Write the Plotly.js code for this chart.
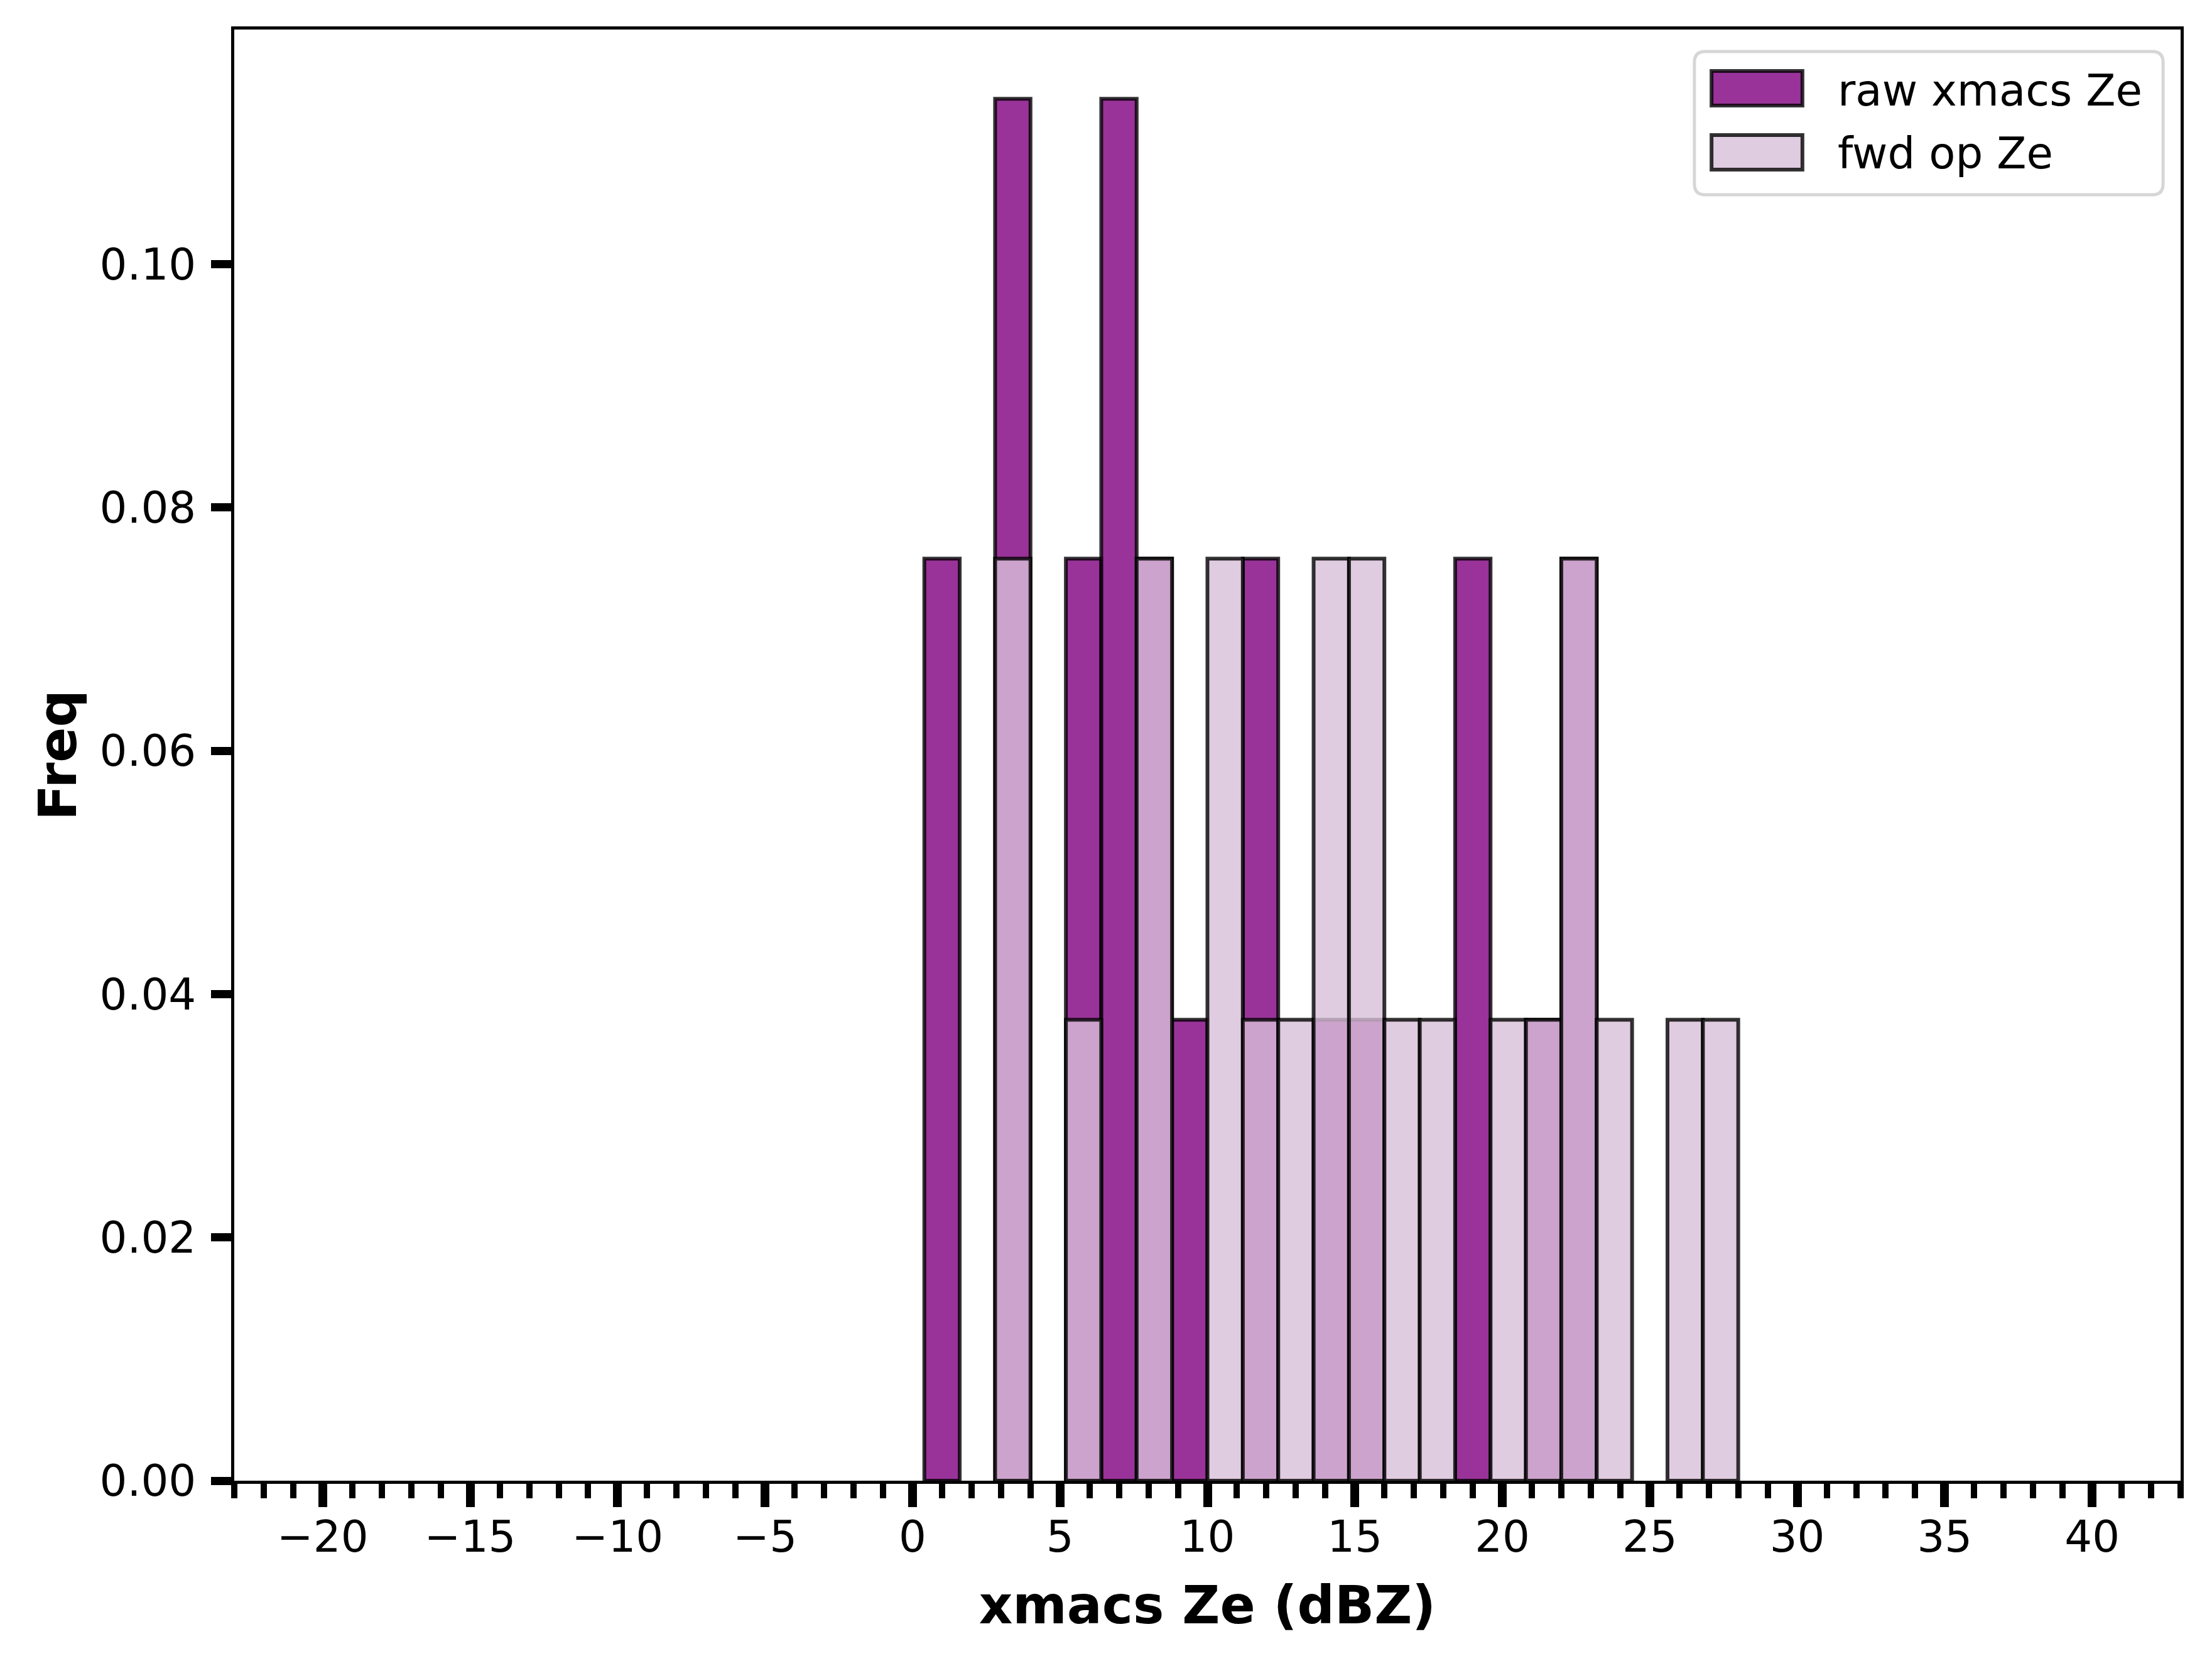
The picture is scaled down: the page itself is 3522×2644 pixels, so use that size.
<!DOCTYPE html>
<html>
<head>
<meta charset="utf-8">
<script src="https://cdn.plot.ly/plotly-3.0.1.min.js"></script>
<style>
  html, body { margin: 0; padding: 0; background: #fff; }
  #graph { width: 3522px; height: 2644px; }
</style>
</head>
<body>
<div id="graph"></div>
<script>
// histogram bins (dBZ), centres of each 1.2 dBZ bin
const binCenters = [1.0, 2.2, 3.4, 4.6, 5.8, 7.0, 8.2, 9.4, 10.6, 11.8, 13.0, 14.2,
                    15.4, 16.6, 17.8, 19.0, 20.2, 21.4, 22.6, 23.8, 25.0, 26.2, 27.4];
const binWidth = 1.2;

// normalised frequency
const rawFreq = [0.0758, 0, 0.1136, 0, 0.0758, 0.1136, 0.0758, 0.0379, 0, 0.0758, 0, 0.0379,
                 0.0379, 0, 0, 0.0758, 0, 0.0379, 0.0758, 0, 0, 0, 0];
const fwdFreq = [0, 0, 0.0758, 0, 0.0379, 0, 0.0758, 0, 0.0758, 0.0379, 0.0379, 0.0758,
                 0.0758, 0.0379, 0.0379, 0, 0.0379, 0.0379, 0.0758, 0.0379, 0, 0.0379, 0.0379];

const seriesNames = ['raw xmacs Ze', 'fwd op Ze'];
const xTicks = [-20, -15, -10, -5, 0, 5, 10, 15, 20, 25, 30, 35, 40];
const yTicks = [0, 0.02, 0.04, 0.06, 0.08, 0.10];

const FONT = 'DejaVu Sans, Liberation Sans, sans-serif';
const rawColor = 'rgba(128,0,128,0.8)';
const fwdColor = 'rgba(216,191,216,0.8)';
const edgeColor = 'rgba(0,0,0,0.8)';

function barTrace(freq, name, color) {
    const x = [];
    const y = [];
    for (let i = 0; i < freq.length; i++) {
        if (freq[i] > 0) {
            x.push(binCenters[i]);
            y.push(freq[i]);
        }
    }
    return {
        type: 'bar',
        name: name,
        x: x,
        y: y,
        width: binWidth,
        marker: {color: color, line: {color: edgeColor, width: 6}},
        hoverinfo: 'x+y'
    };
}

const data = [
    barTrace(rawFreq, seriesNames[0], rawColor),
    barTrace(fwdFreq, seriesNames[1], fwdColor)
];

// rounded legend frame in paper coords
function roundedBox(x0, y0, x1, y1, rx, ry) {
    return 'M' + (x0 + rx) + ',' + y1 +
        ' L' + (x1 - rx) + ',' + y1 + ' Q' + x1 + ',' + y1 + ' ' + x1 + ',' + (y1 - ry) +
        ' L' + x1 + ',' + (y0 + ry) + ' Q' + x1 + ',' + y0 + ' ' + (x1 - rx) + ',' + y0 +
        ' L' + (x0 + rx) + ',' + y0 + ' Q' + x0 + ',' + y0 + ' ' + x0 + ',' + (y0 + ry) +
        ' L' + x0 + ',' + (y1 - ry) + ' Q' + x0 + ',' + y1 + ' ' + (x0 + rx) + ',' + y1 + ' Z';
}

// hand-made legend, matplotlib style (big swatches)
const legendShapes = [
    {type: 'path', xref: 'paper', yref: 'paper',
     path: roundedBox(0.7502, 0.8861, 0.9910, 0.9848, 0.0055, 0.0075),
     line: {color: '#d6d6d6', width: 5}, fillcolor: 'rgba(255,255,255,0.8)'},
    {type: 'rect', xref: 'paper', yref: 'paper', x0: 0.759, x1: 0.8057, y0: 0.9476, y1: 0.9714,
     line: {color: edgeColor, width: 6}, fillcolor: rawColor},
    {type: 'rect', xref: 'paper', yref: 'paper', x0: 0.759, x1: 0.8057, y0: 0.9035, y1: 0.9273,
     line: {color: edgeColor, width: 6}, fillcolor: fwdColor}
];
const legendLabels = [
    {xref: 'paper', yref: 'paper', x: 0.8232, y: 0.9580, xanchor: 'left', yanchor: 'middle',
     text: seriesNames[0], showarrow: false, font: {family: FONT, size: 69, color: '#000'}},
    {xref: 'paper', yref: 'paper', x: 0.8232, y: 0.9147, xanchor: 'left', yanchor: 'middle',
     text: seriesNames[1], showarrow: false, font: {family: FONT, size: 69, color: '#000'}}
];

const layout = {
    width: 3522,
    height: 2644,
    paper_bgcolor: '#fff',
    plot_bgcolor: '#fff',
    margin: {l: 373, r: 50, t: 47, b: 287},
    barmode: 'overlay',
    bargap: 0,
    showlegend: false,
    font: {family: FONT, color: '#000'},
    xaxis: {
        range: [-23, 43],
        tickvals: xTicks,
        ticks: 'outside',
        ticklen: 37,
        tickwidth: 14,
        tickcolor: '#000',
        tickfont: {family: FONT, size: 69, color: '#000'},
        ticklabelstandoff: -12,
        minor: {dtick: 1, tick0: 0, ticks: 'outside', ticklen: 23, tickwidth: 10, tickcolor: '#000'},
        showline: true,
        linecolor: '#000',
        linewidth: 5,
        mirror: true,
        showgrid: false,
        zeroline: false,
        title: {
            text: '<b>xmacs Ze (dBZ)</b>',
            font: {family: FONT, size: 83, color: '#000'},
            standoff: 43
        }
    },
    yaxis: {
        range: [0, 0.1193],
        tickvals: yTicks,
        tickformat: '.2f',
        ticks: 'outside',
        ticklen: 32,
        tickwidth: 13,
        tickcolor: '#000',
        tickfont: {family: FONT, size: 69, color: '#000'},
        ticklabelstandoff: 10,
        showline: true,
        linecolor: '#000',
        linewidth: 5,
        mirror: true,
        showgrid: false,
        zeroline: false,
        title: {
            text: '<b>Freq</b>',
            font: {family: FONT, size: 83, color: '#000'},
            standoff: 11
        }
    },
    shapes: legendShapes,
    annotations: legendLabels
};

Plotly.newPlot('graph', data, layout, {displayModeBar: false, staticPlot: true});
</script>
</body>
</html>
